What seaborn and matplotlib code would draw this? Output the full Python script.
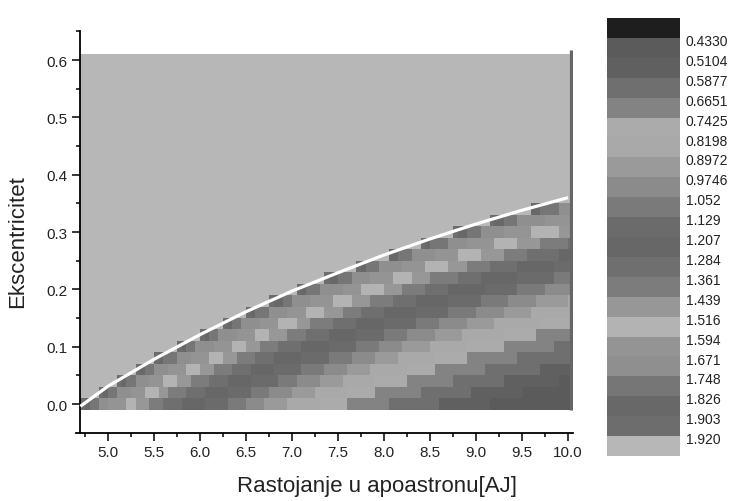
import numpy as np
import matplotlib
matplotlib.use("Agg")
import matplotlib.pyplot as plt
from matplotlib.colors import ListedColormap
from matplotlib.ticker import FixedLocator
import seaborn as sns

# ---- colour scale -------------------------------------------------------
# boundaries printed beside the scale (top to bottom)
LEVELS = ["0.4330", "0.5104", "0.5877", "0.6651", "0.7425", "0.8198", "0.8972",
          "0.9746", "1.052", "1.129", "1.207", "1.284", "1.361", "1.439",
          "1.516", "1.594", "1.671", "1.748", "1.826", "1.903", "1.920"]
# grey of each band: below the first boundary, between boundaries, above the last
BAND_COLORS = ["#1e1e1e", "#5b5b5b", "#606060", "#6f6f6f", "#838383", "#ababab",
               "#a9a9a9", "#9a9a9a", "#8b8b8b", "#7a7a7a", "#6b6b6b", "#676767",
               "#6f6f6f", "#7c7c7c", "#979797", "#b3b3b3", "#949494", "#8f8f8f",
               "#767676", "#686868", "#6d6d6d", "#b7b7b7"]

# ---- map grid -----------------------------------------------------------
Q_MIN, Q_STEP, N_Q = 4.70, 0.05, 107      # apoastron distance [AJ]
E_MIN, E_STEP, N_E = -0.01, 0.02, 31      # eccentricity

# rows that carry computed values: row eccentricity, first distance with data,
# and the distances at which the band index drops by one (starting from band 20)
ROW_E = [0.00, 0.02, 0.04, 0.06, 0.08, 0.10, 0.12, 0.14, 0.16,
         0.18, 0.20, 0.22, 0.24, 0.26, 0.28, 0.30, 0.32, 0.34]
ROW_START = [4.70, 4.89, 5.09, 5.30, 5.52, 5.74, 5.98, 6.23, 6.49,
             6.76, 7.05, 7.36, 7.69, 8.03, 8.39, 8.76, 9.17, 9.59]
ROW_STEPS = [
    [4.74, 4.78, 4.88, 5.02, 5.18, 5.32, 5.45, 5.62, 5.80, 6.05, 6.30, 6.50, 6.72, 6.95, 7.30, 7.60, 8.07, 8.58, 9.15],
    [4.93, 4.98, 5.08, 5.23, 5.39, 5.54, 5.67, 5.85, 6.04, 6.30, 6.56, 6.77, 6.99, 7.23, 7.60, 7.91, 8.40, 8.93, 9.52],
    [5.14, 5.18, 5.29, 5.44, 5.61, 5.76, 5.90, 6.09, 6.28, 6.55, 6.83, 7.04, 7.28, 7.53, 7.91, 8.23, 8.74, 9.30, 9.91],
    [5.35, 5.39, 5.50, 5.66, 5.84, 6.00, 6.15, 6.34, 6.54, 6.82, 7.10, 7.33, 7.58, 7.84, 8.23, 8.57, 9.10, 9.68],
    [5.56, 5.61, 5.73, 5.89, 6.08, 6.25, 6.40, 6.60, 6.81, 7.10, 7.40, 7.63, 7.89, 8.16, 8.57, 8.92, 9.47],
    [5.79, 5.84, 5.96, 6.14, 6.33, 6.50, 6.66, 6.87, 7.09, 7.39, 7.70, 7.94, 8.21, 8.49, 8.92, 9.29, 9.86],
    [6.03, 6.08, 6.21, 6.39, 6.59, 6.77, 6.94, 7.15, 7.38, 7.70, 8.02, 8.27, 8.55, 8.85, 9.29, 9.67],
    [6.28, 6.34, 6.47, 6.65, 6.87, 7.05, 7.22, 7.45, 7.69, 8.02, 8.35, 8.62, 8.91, 9.21, 9.68],
    [6.55, 6.60, 6.74, 6.93, 7.15, 7.35, 7.53, 7.76, 8.01, 8.36, 8.70, 8.98, 9.28, 9.60],
    [6.82, 6.88, 7.02, 7.22, 7.45, 7.66, 7.84, 8.09, 8.35, 8.71, 9.07, 9.35, 9.67, 10.00],
    [7.11, 7.17, 7.32, 7.53, 7.77, 7.98, 8.18, 8.43, 8.70, 9.08, 9.45, 9.75],
    [7.41, 7.48, 7.63, 7.85, 8.10, 8.32, 8.52, 8.79, 9.07, 9.46, 9.85],
    [7.73, 7.80, 7.96, 8.19, 8.45, 8.68, 8.89, 9.17, 9.46, 9.87],
    [8.07, 8.14, 8.31, 8.55, 8.82, 9.06, 9.28, 9.57, 9.88],
    [8.43, 8.50, 8.68, 8.92, 9.21, 9.46, 9.69, 9.99],
    [8.80, 8.88, 9.06, 9.32, 9.62, 9.88],
    [9.20, 9.28, 9.47, 9.75],
    [9.62, 9.71, 9.91],
]

# boundary of the allowed region (white line)
CURVE_Q = [4.70, 5.0, 5.5, 6.0, 6.5, 7.0, 7.5, 8.0, 8.5, 9.0, 9.5, 10.0]
CURVE_E = [-0.004, 0.031, 0.078, 0.121, 0.161, 0.197, 0.229, 0.260, 0.288, 0.314, 0.338, 0.360]

X_TICKS = [5.0, 5.5, 6.0, 6.5, 7.0, 7.5, 8.0, 8.5, 9.0, 9.5, 10.0]
Y_TICKS = [0.0, 0.1, 0.2, 0.3, 0.4, 0.5, 0.6]

# ---- build band-index matrix --------------------------------------------
TOP_BAND = len(BAND_COLORS) - 1
q_centres = Q_MIN + Q_STEP * (np.arange(N_Q) + 0.5)
grid = np.full((N_E, N_Q), TOP_BAND, dtype=float)
for e, start, steps in zip(ROW_E, ROW_START, ROW_STEPS):
    k = int(round((e - E_MIN) / E_STEP - 0.5))
    band = (TOP_BAND - 1) - np.searchsorted(steps, q_centres, side="right")
    grid[k] = np.where(q_centres >= start, band, TOP_BAND)


def qx(q):
    return (np.asarray(q, dtype=float) - Q_MIN) / Q_STEP


def ey(e):
    return (np.asarray(e, dtype=float) - E_MIN) / E_STEP


sns.set_style("ticks")
plt.rcParams["font.family"] = ["Liberation Sans", "DejaVu Sans"]

cmap = ListedColormap(BAND_COLORS)
fig = plt.figure(figsize=(7.4, 5.02), dpi=100)

# ---- main map -----------------------------------------------------------
ax = fig.add_axes([0.1024, 0.1361, 0.6714, 0.7994])
sns.heatmap(grid, ax=ax, cmap=cmap, vmin=-0.5, vmax=TOP_BAND + 0.5,
            cbar=False, xticklabels=False, yticklabels=False)
ax.set_xlim(qx(4.65), qx(10.05))
ax.set_ylim(ey(-0.05), ey(0.65))

ax.plot(qx(CURVE_Q), ey(CURVE_E), color="white", lw=2.3,
        solid_capstyle="butt", zorder=3)
# dark frame edge on the right of the map
ax.plot([qx(10.035), qx(10.035)], [ey(-0.01), ey(0.617)], color="#666666",
        lw=2.3, solid_capstyle="butt", zorder=3)

for side in ("left", "bottom"):
    ax.spines[side].set_visible(True)
    ax.spines[side].set_linewidth(1.3)
    ax.spines[side].set_color("black")
for side in ("right", "top"):
    ax.spines[side].set_visible(False)
ax.spines["left"].set_position(("data", qx(4.70)))

ax.set_xticks(qx(X_TICKS))
ax.set_xticklabels([f"{v:.1f}" for v in X_TICKS], rotation=0)
ax.xaxis.set_minor_locator(FixedLocator(qx(np.arange(4.75, 10.0, 0.5))))
ax.set_yticks(ey(Y_TICKS))
ax.set_yticklabels([f"{v:.1f}" for v in Y_TICKS], rotation=0)
ax.yaxis.set_minor_locator(FixedLocator(ey(np.arange(0.05, 0.66, 0.1))))
ax.tick_params(which="major", direction="out", length=5.5, width=1.1,
               color="black", labelsize=11, pad=3.5, labelcolor="#222222")
ax.tick_params(which="minor", direction="out", length=3.0, width=1.1,
               color="black")
ax.tick_params(axis="x", which="both", bottom=True, top=False)
ax.tick_params(axis="y", which="both", left=True, right=False)

fig.text(0.51, 0.030, "Rastojanje u apoastronu[AJ]", ha="center", va="center",
         fontsize=16, color="#222222")
fig.text(0.024, 0.518, "Ekscentricitet", ha="center", va="center",
         rotation=90, fontsize=16, color="#222222")

# ---- colour scale -------------------------------------------------------
cax = fig.add_axes([0.8203, 0.0896, 0.0986, 0.8725])
sns.heatmap(np.arange(len(BAND_COLORS)).reshape(-1, 1), ax=cax, cmap=cmap,
            vmin=-0.5, vmax=TOP_BAND + 0.5, cbar=False,
            xticklabels=False, yticklabels=False)
cax.yaxis.tick_right()
cax.set_yticks(np.arange(1, len(LEVELS) + 1) + 0.08)
cax.set_yticklabels(LEVELS, rotation=0)
cax.tick_params(axis="y", length=0, pad=4, labelsize=10, labelcolor="#222222")
cax.tick_params(axis="x", length=0)

fig.savefig("out.png", dpi=100)
